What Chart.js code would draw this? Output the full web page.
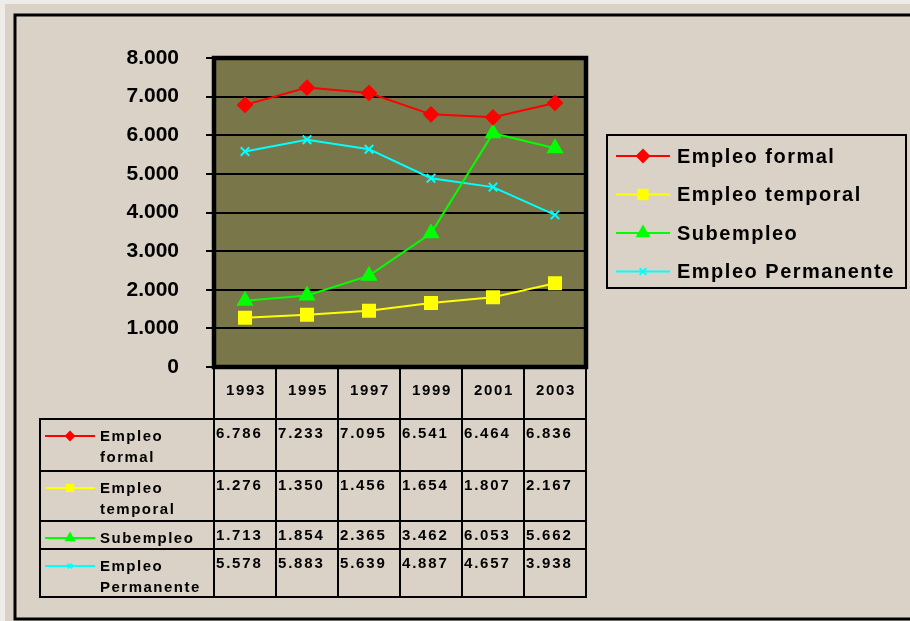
<!DOCTYPE html>
<html lang="es">
<head>
<meta charset="utf-8">
<title>Empleo 1993-2003</title>
<script src="https://cdn.jsdelivr.net/npm/chart.js@4.4.1/dist/chart.umd.min.js"></script>
<style>
    html, body { margin: 0; padding: 0; background: #eeece8; overflow: hidden; }
    canvas { display: block; }
</style>
</head>
<body>
<canvas id="empleoChart" width="910" height="621"></canvas>
<script>
// Data (thousands, "." as separator)
const years = ['1993', '1995', '1997', '1999', '2001', '2003'];
const seriesNames = ['Empleo formal', 'Empleo temporal', 'Subempleo', 'Empleo Permanente'];
const empleoFormal = [6786, 7233, 7095, 6541, 6464, 6836];
const empleoTemporal = [1276, 1350, 1456, 1654, 1807, 2167];
const subempleo = [1713, 1854, 2365, 3462, 6053, 5662];
const empleoPermanente = [5578, 5883, 5639, 4887, 4657, 3938];
const yTicks = [0, 1000, 2000, 3000, 4000, 5000, 6000, 7000, 8000];

// Look of each series
const seriesColors = ['#ff0000', '#ffff00', '#00ff00', '#00ffff'];
const seriesMarkers = ['rectRot', 'rect', 'triangle', 'crossRot'];
const seriesRadius = [7, 8.5, 8, 6];
const smallRadius = [5, 5.5, 5.5, 4];

const FONT = '"Liberation Sans", Arial, sans-serif';
const fmt = v => v === 0 ? '0' : (v / 1000).toFixed(3);

// Row boundaries of the data table under the plot
const rowEdges = [419, 471, 521, 549, 597];
const tableLeft = 40;

function spacedText(ctx, text, x, y, size, spacing, align) {
    ctx.font = 'bold ' + size + 'px ' + FONT;
    ctx.letterSpacing = spacing + 'px';
    ctx.textAlign = align || 'left';
    ctx.textBaseline = 'middle';
    ctx.fillStyle = '#000';
    ctx.fillText(text, x, y);
    ctx.letterSpacing = '0px';
}

function marker(ctx, i, x, y, radius) {
    ctx.fillStyle = seriesColors[i];
    ctx.strokeStyle = seriesColors[i];
    ctx.lineWidth = 2;
    Chart.helpers.drawPoint(ctx, {
        pointStyle: seriesMarkers[i],
        radius: radius,
        rotation: 0,
        borderWidth: 2
    }, x, y);
}

function keyLine(ctx, i, x1, x2, y, radius) {
    ctx.strokeStyle = seriesColors[i];
    ctx.lineWidth = 2;
    ctx.beginPath();
    ctx.moveTo(x1, y);
    ctx.lineTo(x2, y);
    ctx.stroke();
    marker(ctx, i, (x1 + x2) / 2, y, radius);
}

const excelLook = {
    id: 'excelLook',
    beforeDraw(chart) {
        const { ctx, chartArea: a } = chart;
        ctx.save();
        ctx.fillStyle = '#eeece8';
        ctx.fillRect(0, 0, chart.width, chart.height);
        ctx.fillStyle = '#dad2c6';
        ctx.fillRect(5, 4, chart.width, chart.height);
        // outer chart frame (right edge runs off the picture)
        ctx.strokeStyle = '#000';
        ctx.lineWidth = 3;
        ctx.strokeRect(15, 15, chart.width + 20, 604);
        // plot area
        ctx.fillStyle = '#79764a';
        ctx.fillRect(a.left, a.top, a.right - a.left, a.bottom - a.top);
        ctx.restore();
    },
    afterDraw(chart) {
        const { ctx, chartArea: a } = chart;
        const xScale = chart.scales.x;
        const colW = (a.right - a.left) / years.length;
        const centers = years.map((_, i) => xScale.getPixelForValue(i));
        const edges = centers.map(c => c - colW / 2).concat([centers[centers.length - 1] + colW / 2]);
        const dataSets = chart.data.datasets;

        ctx.save();

        // plot border
        ctx.strokeStyle = '#000';
        ctx.lineWidth = 4.5;
        ctx.strokeRect(a.left, a.top, a.right - a.left, a.bottom - a.top);

        // data table grid
        ctx.lineWidth = 2;
        ctx.beginPath();
        edges.forEach(x => {
            ctx.moveTo(x, a.bottom);
            ctx.lineTo(x, rowEdges[rowEdges.length - 1]);
        });
        ctx.moveTo(tableLeft, rowEdges[0]);
        ctx.lineTo(tableLeft, rowEdges[rowEdges.length - 1]);
        rowEdges.forEach(y => {
            ctx.moveTo(tableLeft - 1, y);
            ctx.lineTo(edges[edges.length - 1] + 1, y);
        });
        ctx.stroke();

        // header years
        years.forEach((yr, i) => spacedText(ctx, yr, centers[i] + 1, 391, 15, 1.7, 'center'));

        // one row per series
        dataSets.forEach((ds, i) => {
            const top = rowEdges[i];
            const words = ds.label.split(' ');
            keyLine(ctx, i, 45, 95, top + 17, smallRadius[i] * 0.8);
            words.forEach((w, j) => spacedText(ctx, w, 100, top + 17.5 + j * 21.5, 15, 1.5));
            ds.data.forEach((v, j) => spacedText(ctx, fmt(v), edges[j] + 2, top + 15, 15, 1.8));
        });

        // legend box on the right
        ctx.strokeStyle = '#000';
        ctx.lineWidth = 2;
        ctx.strokeRect(607, 135, 299, 153);
        dataSets.forEach((ds, i) => {
            const y = 156 + i * 38.5;
            keyLine(ctx, i, 616, 670, y, smallRadius[i] * 1.2);
            spacedText(ctx, ds.label, 677, y + 1, 20, 1.5);
        });

        ctx.restore();
    }
};

const seriesData = [empleoFormal, empleoTemporal, subempleo, empleoPermanente];

new Chart(document.getElementById('empleoChart').getContext('2d'), {
    type: 'line',
    data: {
        labels: years,
        datasets: seriesData.map((values, i) => ({
            label: seriesNames[i],
            data: values,
            borderColor: seriesColors[i],
            backgroundColor: seriesColors[i],
            borderWidth: 2,
            pointStyle: seriesMarkers[i],
            pointRadius: seriesRadius[i],
            pointBackgroundColor: seriesColors[i],
            pointBorderColor: seriesColors[i],
            pointBorderWidth: 2,
            tension: 0,
            fill: false
        }))
    },
    options: {
        responsive: false,
        animation: false,
        devicePixelRatio: 1,
        layout: {
            padding: { left: 0, top: 58, right: 324, bottom: 254 }
        },
        plugins: {
            legend: { display: false },
            tooltip: { enabled: false }
        },
        scales: {
            x: {
                display: false,
                offset: true
            },
            y: {
                min: 0,
                max: 8000,
                afterBuildTicks: scale => {
                    scale.ticks = yTicks.map(v => ({ value: v }));
                },
                afterFit: scale => {
                    scale.width = 214;
                },
                ticks: {
                    color: '#000',
                    padding: 27,
                    font: { family: FONT, size: 21, weight: 'bold' },
                    callback: v => fmt(v)
                },
                grid: {
                    color: '#000',
                    lineWidth: 2,
                    tickLength: 8,
                    tickColor: '#000'
                },
                border: { display: false }
            }
        }
    },
    plugins: [excelLook]
});
</script>
</body>
</html>
